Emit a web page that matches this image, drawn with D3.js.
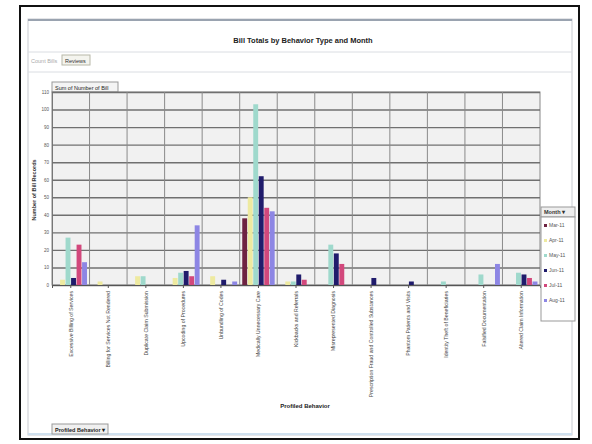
<!DOCTYPE html>
<html>
<head>
<meta charset="utf-8">
<script src="https://cdn.jsdelivr.net/npm/d3@7"></script>
<style>
  html, body { margin: 0; padding: 0; background: #fff; }
  svg { display: block; font-family: "Liberation Sans Narrow", "Liberation Sans", Arial, sans-serif; }
</style>
</head>
<body>
<svg id="chart" width="592" height="444"></svg>
<script>
// Profiled behaviour categories (x axis)
const categories = [
  "Excessive Billing of Services",
  "Billing for Services Not Rendered",
  "Duplicate Claim Submission",
  "Upcoding of Procedures",
  "Unbundling of Codes",
  "Medically Unnecessary Care",
  "Kickbacks and Referrals",
  "Misrepresented Diagnosis",
  "Prescription Fraud and Controlled Substances",
  "Phantom Patients and Visits",
  "Identity Theft of Beneficiaries",
  "Falsified Documentation",
  "Altered Claim Information"
];

// Months (series) and their colours
const months = ["Mar-11", "Apr-11", "May-11", "Jun-11", "Jul-11", "Aug-11"];
const monthColors = ["#6e2342", "#eeeaa0", "#9fd9cc", "#201c6c", "#d2487c", "#8d86e4"];

// Sum of number of bills, one array per month, in category order
const mar11 = [0, 0, 0, 0, 0, 38, 0, 0, 0, 0, 0, 0, 0];
const apr11 = [3, 2, 5, 4, 5, 50, 2, 0, 0, 0, 0, 0, 0];
const may11 = [27, 0, 5, 7, 0, 103, 2, 23, 0, 0, 2, 6, 7];
const jun11 = [4, 0, 0, 8, 3, 62, 6, 18, 4, 2, 0, 0, 6];
const jul11 = [23, 0, 0, 5, 0, 44, 3, 12, 0, 0, 0, 0, 4];
const aug11 = [13, 0, 0, 34, 2, 42, 0, 0, 0, 0, 0, 12, 2];
const seriesValues = [mar11, apr11, may11, jun11, jul11, aug11];

// Value axis ticks
const yTicks = [0, 10, 20, 30, 40, 50, 60, 70, 80, 90, 100, 110];

const svg = d3.select("#chart");

// outer frame
svg.append("rect").attr("x", 20).attr("y", 6).attr("width", 559).attr("height", 433)
  .attr("fill", "#fff").attr("stroke", "#111").attr("stroke-width", 2);

// pivot chart window
svg.append("rect").attr("x", 28).attr("y", 19).attr("width", 544).attr("height", 416)
  .attr("fill", "#fff").attr("stroke", "#c9ccd2").attr("stroke-width", 1);
svg.append("line").attr("x1", 28).attr("x2", 572).attr("y1", 20).attr("y2", 20)
  .attr("stroke", "#9aa3b0").attr("stroke-width", 2);
svg.append("line").attr("x1", 28).attr("x2", 572).attr("y1", 434).attr("y2", 434)
  .attr("stroke", "#cfe0ee").attr("stroke-width", 2);

// title
svg.append("text").attr("x", 303).attr("y", 43).attr("text-anchor", "middle")
  .attr("font-size", 7.5).attr("font-weight", "bold").attr("fill", "#222")
  .text("Bill Totals by Behavior Type and Month");

// report filter row
svg.append("line").attr("x1", 28).attr("x2", 572).attr("y1", 52).attr("y2", 52).attr("stroke", "#dadde2");
svg.append("text").attr("x", 31).attr("y", 63).attr("font-size", 5.5).attr("fill", "#aaa").text("Count Bills");
svg.append("rect").attr("x", 62).attr("y", 55).attr("width", 28).attr("height", 10)
  .attr("fill", "#f4f4ee").attr("stroke", "#b8b8a8");
svg.append("text").attr("x", 65).attr("y", 62.5).attr("font-size", 5.5).attr("fill", "#333").text("Reviews");
svg.append("line").attr("x1", 28).attr("x2", 572).attr("y1", 72).attr("y2", 72).attr("stroke", "#dadde2");

// value field button
svg.append("rect").attr("x", 52).attr("y", 82).attr("width", 66).attr("height", 10)
  .attr("fill", "#f4f4f4").attr("stroke", "#999");
svg.append("text").attr("x", 55).attr("y", 89.5).attr("font-size", 5.5).attr("fill", "#222")
  .text("Sum of Number of Bill");

// plot area
const plot = { left: 52, right: 540, top: 92, bottom: 285 };

const x0 = d3.scaleBand().domain(categories).range([plot.left, plot.right])
  .paddingInner(0.12).paddingOuter(0.06);
const x1 = d3.scaleBand().domain(months).range([0, x0.bandwidth()]);
const y = d3.scaleLinear().domain([0, 110]).range([plot.bottom, plot.top]);
const color = d3.scaleOrdinal().domain(months).range(monthColors);

svg.append("rect").attr("x", plot.left).attr("y", plot.top)
  .attr("width", plot.right - plot.left).attr("height", plot.bottom - plot.top)
  .attr("fill", "#f1f1f1").attr("stroke", "#888");

// horizontal gridlines and value axis
const yAxis = d3.axisLeft(y).tickValues(yTicks).tickSize(-(plot.right - plot.left)).tickPadding(3);
const gy = svg.append("g").attr("transform", `translate(${plot.left},0)`).call(yAxis);
gy.select(".domain").attr("stroke", "#777");
gy.selectAll(".tick line").attr("stroke", "#707070").attr("stroke-width", 1.4);
gy.selectAll(".tick text").attr("font-size", 4.5).attr("fill", "#555")
  .attr("font-family", "'Liberation Sans Narrow', 'Liberation Sans', sans-serif");

// vertical separators between categories
const step = x0.step();
svg.append("g").selectAll("line")
  .data(d3.range(1, categories.length))
  .join("line")
  .attr("x1", i => plot.left + i * step).attr("x2", i => plot.left + i * step)
  .attr("y1", plot.top).attr("y2", plot.bottom)
  .attr("stroke", "#8a8a8a").attr("stroke-width", 1);

// bars
const rows = categories.map((c, ci) => ({
  category: c,
  values: months.map((m, si) => ({ month: m, value: seriesValues[si][ci] }))
}));

const groups = svg.append("g").selectAll("g")
  .data(rows).join("g")
  .attr("transform", d => `translate(${x0(d.category)},0)`);

groups.selectAll("rect")
  .data(d => d.values.filter(v => v.value > 0))
  .join("rect")
  .attr("x", d => x1(d.month) + 0.3)
  .attr("width", x1.bandwidth() - 0.6)
  .attr("y", d => y(d.value))
  .attr("height", d => y(0) - y(d.value))
  .attr("fill", d => color(d.month));

// category axis
const xAxis = d3.axisBottom(x0).tickSize(3).tickPadding(3);
const gx = svg.append("g").attr("transform", `translate(0,${plot.bottom})`).call(xAxis);
gx.select(".domain").attr("stroke", "#555");
gx.selectAll(".tick line").attr("stroke", "#555");
gx.selectAll(".tick text")
  .attr("font-size", 5.2).attr("fill", "#444")
  .attr("font-family", "'Liberation Sans Narrow', 'Liberation Sans', sans-serif")
  .attr("text-anchor", "end")
  .attr("transform", "rotate(-90)")
  .attr("x", -6).attr("y", 0).attr("dy", "0.35em");

// axis titles
svg.append("text").attr("transform", "translate(36,190) rotate(-90)")
  .attr("text-anchor", "middle").attr("font-size", 5.5).attr("font-weight", "bold").attr("fill", "#333")
  .text("Number of Bill Records");
svg.append("text").attr("x", 305).attr("y", 408).attr("text-anchor", "middle")
  .attr("font-size", 6).attr("font-weight", "bold").attr("fill", "#222")
  .text("Profiled Behavior");

// legend
const lg = svg.append("g").attr("transform", "translate(541,207)");
lg.append("rect").attr("x", 0).attr("y", 0).attr("width", 34).attr("height", 10)
  .attr("fill", "#eee").attr("stroke", "#999");
lg.append("text").attr("x", 3).attr("y", 7).attr("font-size", 5.5).attr("font-weight", "bold")
  .attr("fill", "#333").text("Month \u25BE");
lg.append("rect").attr("x", 0).attr("y", 10).attr("width", 34).attr("height", 104)
  .attr("fill", "#fff").attr("stroke", "#999");
const items = lg.selectAll("g.item").data(months).join("g").attr("class", "item")
  .attr("transform", (d, i) => `translate(3,${20 + i * 15})`);
items.append("rect").attr("x", 0).attr("y", -3).attr("width", 3).attr("height", 3)
  .attr("fill", d => color(d));
items.append("text").attr("x", 5).attr("y", 0).attr("font-size", 5).attr("fill", "#555").text(d => d);

// axis field button
svg.append("rect").attr("x", 52).attr("y", 424).attr("width", 56).attr("height", 10)
  .attr("fill", "#f0f0f0").attr("stroke", "#999");
svg.append("text").attr("x", 55).attr("y", 431.5).attr("font-size", 5.5).attr("font-weight", "bold")
  .attr("fill", "#222").text("Profiled Behavior \u25BE");
</script>
</body>
</html>
